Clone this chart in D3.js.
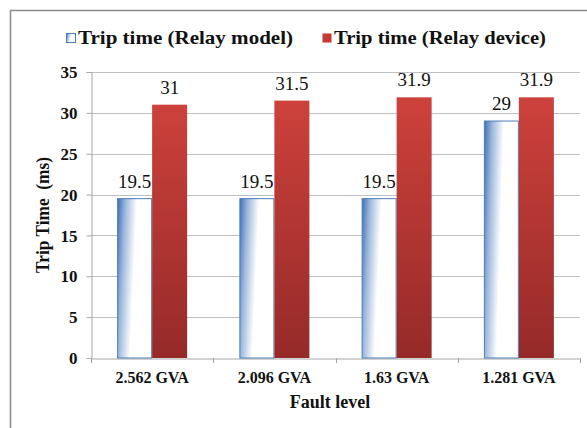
<!DOCTYPE html>
<html>
<head>
<meta charset="utf-8">
<script src="https://cdn.jsdelivr.net/npm/d3@7"></script>
<style>
  html, body { margin: 0; padding: 0; background: #fff; }
  svg { display: block; }
</style>
</head>
<body>
<svg id="chart" width="587" height="428"></svg>
<script>
// Fault levels and measured trip times (ms)
const categories = ["2.562 GVA", "2.096 GVA", "1.63 GVA", "1.281 GVA"];
const seriesNames = ["Trip time (Relay model)", "Trip time (Relay device)"];
const relayModel = [19.5, 19.5, 19.5, 29];
const relayDevice = [31, 31.5, 31.9, 31.9];
const yTicks = [0, 5, 10, 15, 20, 25, 30, 35];

const boldFont = "'Liberation Serif', 'Times New Roman', serif";
const valueFont = "'Liberation Serif', 'Times New Roman', serif";

const svg = d3.select("#chart");
const W = 587, H = 428;
const plot = { left: 91, right: 580, top: 72, bottom: 358 };

// Gradients for the two series
const defs = svg.append("defs");
const blueGrad = defs.append("linearGradient")
  .attr("id", "gradModel")
  .attr("x1", 0).attr("y1", 0).attr("x2", 1).attr("y2", 0.22);
blueGrad.append("stop").attr("offset", 0).attr("stop-color", "#3f6fb3");
blueGrad.append("stop").attr("offset", 0.22).attr("stop-color", "#9bb6dc");
blueGrad.append("stop").attr("offset", 0.55).attr("stop-color", "#ffffff");
blueGrad.append("stop").attr("offset", 1).attr("stop-color", "#ffffff");

const redGrad = defs.append("linearGradient")
  .attr("id", "gradDevice")
  .attr("x1", 0).attr("y1", 0).attr("x2", 0).attr("y2", 1);
redGrad.append("stop").attr("offset", 0).attr("stop-color", "#cd413b");
redGrad.append("stop").attr("offset", 1).attr("stop-color", "#952a29");

// Outer chart frame
svg.append("path")
  .attr("d", `M10.5,${H} V10.5 H${W}`)
  .attr("fill", "none")
  .attr("stroke", "#8c8c8c")
  .attr("stroke-width", 1.5);

// Scales
const y = d3.scaleLinear().domain([0, 35]).range([plot.bottom, plot.top]);
const x0 = d3.scaleBand().domain(categories).range([plot.left, plot.right]).padding(0);
const groupW = 70;
const x1 = d3.scaleBand().domain(seriesNames)
  .range([(x0.bandwidth() - groupW) / 2, (x0.bandwidth() + groupW) / 2]).padding(0);

// Horizontal gridlines
svg.append("g")
  .selectAll("line")
  .data(yTicks.filter(d => d > 0))
  .join("line")
  .attr("x1", plot.left).attr("x2", plot.right)
  .attr("y1", d => Math.round(y(d)) + 0.5).attr("y2", d => Math.round(y(d)) + 0.5)
  .attr("stroke", "#bfbfbf").attr("stroke-width", 1);

// Y axis
const yAxis = svg.append("g")
  .attr("transform", `translate(${plot.left + 0.5},0)`)
  .call(d3.axisLeft(y).tickValues(yTicks).tickSize(5).tickPadding(9).tickFormat(d3.format("d")));
yAxis.select(".domain").attr("stroke", "#a6a6a6");
yAxis.selectAll(".tick line").attr("stroke", "#a6a6a6");
yAxis.selectAll(".tick text")
  .attr("font-family", boldFont).attr("font-weight", "bold")
  .attr("font-size", 17).attr("fill", "#111")
  .attr("dy", "0.33em");

// X axis
const xAxis = svg.append("g")
  .attr("transform", `translate(0,${Math.round(plot.bottom) + 0.5})`)
  .call(d3.axisBottom(x0).tickSize(0).tickPadding(13));
xAxis.select(".domain").attr("stroke", "#a6a6a6");
xAxis.selectAll(".tick text")
  .attr("font-family", boldFont).attr("font-weight", "bold")
  .attr("font-size", 16).attr("fill", "#111");
// category boundary ticks
svg.append("g")
  .selectAll("line")
  .data(categories.concat(["end"]))
  .join("line")
  .attr("x1", (d, i) => Math.round(plot.left + i * x0.step()) + 0.5)
  .attr("x2", (d, i) => Math.round(plot.left + i * x0.step()) + 0.5)
  .attr("y1", plot.bottom).attr("y2", plot.bottom + 5)
  .attr("stroke", "#a6a6a6");

// Bars
const rows = categories.map((c, i) => ({ cat: c, vals: [relayModel[i], relayDevice[i]] }));
const groups = svg.append("g").selectAll("g")
  .data(rows)
  .join("g")
  .attr("transform", d => `translate(${x0(d.cat)},0)`);

groups.selectAll("rect")
  .data(d => d.vals.map((v, k) => ({ name: seriesNames[k], v, k })))
  .join("rect")
  .attr("x", d => x1(d.name) + (d.k === 0 ? 0.5 : 0))
  .attr("y", d => y(d.v))
  .attr("width", d => x1.bandwidth() - (d.k === 0 ? 1 : 0))
  .attr("height", d => y(0) - y(d.v))
  .attr("fill", d => d.k === 0 ? "url(#gradModel)" : "url(#gradDevice)")
  .attr("stroke", d => d.k === 0 ? "#4a7ebb" : "none")
  .attr("stroke-width", 1);

// Value labels
groups.selectAll("text")
  .data(d => d.vals.map((v, k) => ({ name: seriesNames[k], v, k })))
  .join("text")
  .attr("x", d => x1(d.name) + x1.bandwidth() / 2)
  .attr("y", d => y(d.v) - 11)
  .attr("text-anchor", "middle")
  .attr("font-family", valueFont)
  .attr("font-size", 19)
  .attr("fill", "#111")
  .text(d => d.v);

// Axis titles
svg.append("text")
  .attr("transform", `translate(49,215) rotate(-90)`)
  .attr("text-anchor", "middle")
  .attr("font-family", boldFont).attr("font-weight", "bold")
  .attr("font-size", 19).attr("fill", "#111")
  .attr("xml:space", "preserve")
  .attr("textLength", 116).attr("lengthAdjust", "spacingAndGlyphs")
  .text("Trip Time  (ms)");

svg.append("text")
  .attr("x", 330).attr("y", 408)
  .attr("text-anchor", "middle")
  .attr("font-family", boldFont).attr("font-weight", "bold")
  .attr("font-size", 18).attr("fill", "#111")
  .text("Fault level");

// Legend
const legend = [
  { name: seriesNames[0], sx: 66, tx: 78, fill: "url(#gradModel)", stroke: "#4a7ebb", w: 215 },
  { name: seriesNames[1], sx: 322, tx: 334, fill: "#c33a35", stroke: "none", w: 212 }
];
const lg = svg.append("g").selectAll("g").data(legend).join("g");
lg.append("rect")
  .attr("x", d => d.sx + 0.5).attr("y", 33.5)
  .attr("width", 9).attr("height", 9)
  .attr("fill", d => d.fill).attr("stroke", d => d.stroke);
lg.append("text")
  .attr("x", d => d.tx).attr("y", 44)
  .attr("font-family", boldFont).attr("font-weight", "bold")
  .attr("font-size", 19.5).attr("fill", "#111")
  .attr("textLength", d => d.w)
  .attr("lengthAdjust", "spacingAndGlyphs")
  .text(d => d.name);
</script>
</body>
</html>
